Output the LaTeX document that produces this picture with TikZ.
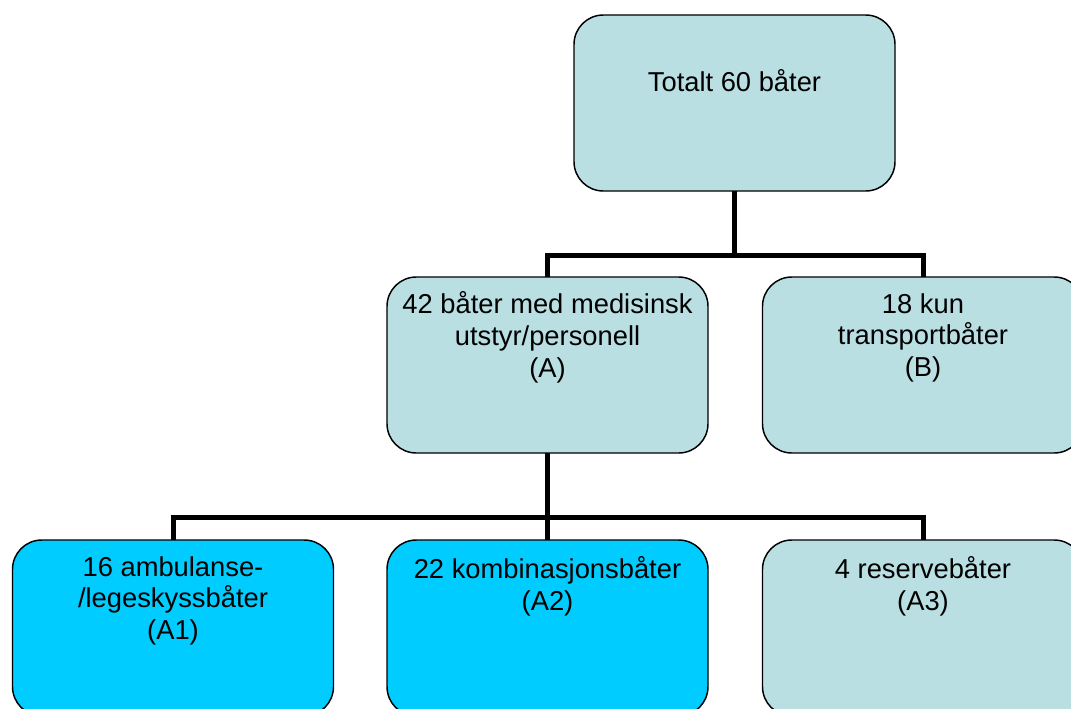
\documentclass[tikz,border=0pt]{standalone}
\usepackage{fontspec}
\setmainfont{Liberation Sans}
\usetikzlibrary{positioning}
\definecolor{PaleTeal}{HTML}{B9DFE3}
\definecolor{BrightCyan}{HTML}{00CCFF}

\begin{document}
\begin{tikzpicture}[x=0.75pt,y=-0.75pt,
  boatbox/.style={draw,line width=1.1pt,rounded corners=22pt,minimum width=240.75pt,minimum height=132pt,inner sep=0pt,outer sep=0pt},
  boattext/.style={align=center,inner sep=0pt,anchor=north,font=\fontsize{20.5}{23.8}\selectfont},
  link/.style={line width=3.75pt}]
  \useasboundingbox (0,0) rectangle (1071,708);
  \clip (0,0) rectangle (1071,708);
  % boxes
  \node[boatbox,fill=PaleTeal] (top) at (734.5,103) {};
  \node[boatbox,fill=PaleTeal] (a) at (547.5,365) {};
  \node[boatbox,fill=PaleTeal] (b) at (923,365) {};
  \node[boatbox,fill=BrightCyan] (a1) at (173,628) {};
  \node[boatbox,fill=BrightCyan] (a2) at (547.5,628) {};
  \node[boatbox,fill=PaleTeal] (a3) at (923,628) {};
  % texts
  \node[boattext] (ttop) at ([yshift=-40.5pt]top.north) {Totalt 60 båter};
  \node[boattext] (ta) at ([yshift=-11pt]a.north) {42 båter med medisinsk\\utstyr/personell\\(A)};
  \node[boattext] (tb) at ([yshift=-12pt]b.north) {18 kun\\transportbåter\\(B)};
  \node[boattext] (ta1) at ([yshift=-12pt]a1.north) {16 ambulanse-\\/legeskyssbåter\\(A1)};
  \node[boattext] (ta2) at ([yshift=-12pt]a2.north) {22 kombinasjonsbåter\\(A2)};
  \node[boattext] (ta3) at ([yshift=-12pt]a3.north) {4 reservebåter\\(A3)};
  % links
  \coordinate (hubtop) at (top.south |- 0,255);
  \coordinate (huba) at (a.south |- 0,517);
  \draw[link] (top.south) -- (hubtop) -| (a.north);
  \draw[link] (hubtop) -| (b.north);
  \draw[link] (a.south) -- (huba) -| (a1.north);
  \draw[link] (huba) -- (a2.north);
  \draw[link] (huba) -| (a3.north);
\end{tikzpicture}
\end{document}
